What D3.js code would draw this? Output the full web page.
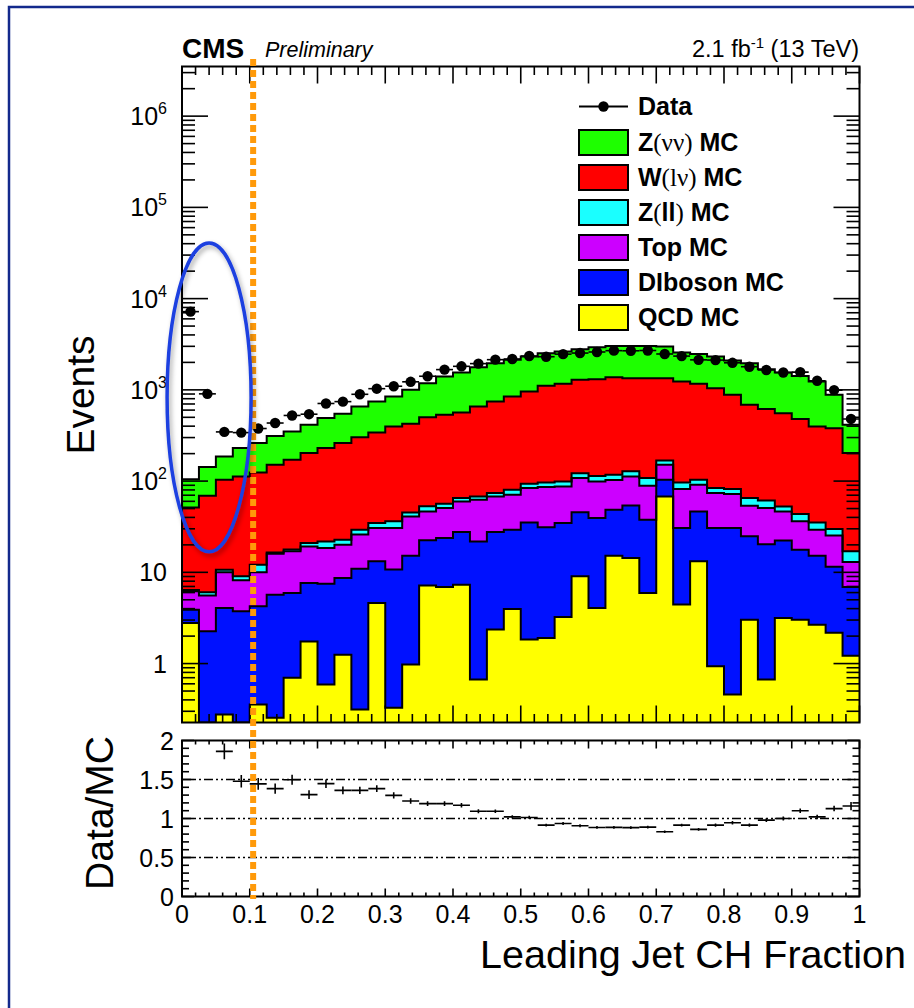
<!DOCTYPE html>
<html>
<head>
<meta charset="utf-8">
<script src="https://cdn.jsdelivr.net/npm/d3@7"></script>
<style>
  html, body { margin: 0; padding: 0; background: #fff; }
  svg { display: block; }
  text { font-family: "Liberation Sans", Arial, Helvetica, sans-serif; fill: #000; }
</style>
</head>
<body>
<svg id="chart" width="914" height="1008"></svg>
<script>
// ---- Binning: 40 bins of the leading-jet charged-hadron fraction, 0..1 ----
const binEdges = d3.range(41).map(i => i / 40);

// ---- Stacked MC components (events per bin) ----
const qcd     = [2.79, 0, 0.277, 0, 0.356, 0.254, 0.697, 1.75, 0.589, 1.25,
                 0.313, 4.62, 0.327, 0.975, 7.15, 6.92, 7.33, 0.668, 2.36, 3.97,
                 1.83, 1.91, 3.24, 9.04, 4.07, 15.2, 14.4, 5.94, 67.9, 4.43,
                 13.2, 0.935, 0.458, 3.03, 0.668, 3.16, 3.03, 2.67, 2.17, 1.22];
const diboson = [1.11, 2.26, 3.79, 3.74, 3.88, 5.44, 5.24, 5.9, 6.93, 7.43,
                 10.6, 8.58, 10.4, 14.2, 15.3, 16.9, 20.4, 21.1, 25.3, 25.3,
                 33.4, 29.2, 31.5, 36.4, 35.3, 33.3, 39.7, 31.8, 35.6, 26.2,
                 33.3, 29.7, 30.1, 21.8, 19.7, 19.2, 14.7, 12.5, 9.33, 5.7];
const top_    = [2.29, 3.3, 5.93, 4.43, 5.76, 10.3, 11.1, 11.6, 11.0, 11.4,
                 15.0, 17.4, 19.9, 25.8, 24.1, 26.9, 32.1, 40.7, 40.2, 41.5,
                 48.7, 55.0, 52.7, 62.6, 59.6, 54.5, 57.9, 51.2, 47.5, 51.2,
                 44.7, 43.4, 41.5, 28.9, 30.3, 24.1, 18.5, 14.1, 13.9, 6.08];
const zll     = [0.21, 0.48, 0.7, 0.87, 2.1, 0.5, 0.7, 1.7, 3.3, 2.7,
                 3.4, 4.1, 5.6, 4.4, 6.3, 5.8, 5.4, 5.4, 6.1, 9.6,
                 9.6, 10.5, 11.6, 14, 15, 14, 16, 19.1, 17, 14.8,
                 12.3, 9.9, 9.7, 11.5, 10.7, 6.3, 7.3, 5.9, 4.5, 4.0];
const wlnu    = [45.1, 63.1, 92.8, 103.4, 112.3, 134.5, 153.3, 182.1, 208.2, 238.2,
                 273.7, 306.3, 359.8, 378.6, 449.2, 476.5, 499.8, 589.1, 671, 764.6,
                 865.5, 1010, 1065, 1166, 1195, 1260, 1215, 1235, 1175, 1136,
                 1060, 959, 800, 620, 554, 503, 434.5, 360.8, 350, 186];
const znunu   = [53.5, 73.4, 82.5, 117.6, 136.6, 162, 179, 211, 260, 285,
                 354, 404, 449, 576, 682, 867, 983, 1117, 1215, 1288,
                 1358, 1416, 1466, 1502, 1628, 1657, 1691, 1691, 1637, 1330,
                 1315, 1274, 1212, 1275, 1071, 992, 945, 837, 502, 211];

// ---- Observed data (events per bin) ----
const dataCounts = [7200, 904, 346, 340, 377, 433, 524, 541, 709, 743,
                    894, 1030, 1096, 1225, 1410, 1667, 1811, 1939, 2142, 2178,
                    2347, 2308, 2462, 2531, 2600, 2690, 2680, 2700, 2473, 2345,
                    2132, 2120, 1979, 1793, 1651, 1548, 1565, 1258, 994, 480];

// ---- Axis tick labels ----
const ratioTickValues = [0, 0.5, 1, 1.5, 2];
const xTickValues = [0, 0.1, 0.2, 0.3, 0.4, 0.5, 0.6, 0.7, 0.8, 0.9, 1];
const logDecades = [0, 1, 2, 3, 4, 5, 6];

// ---- Legend entries, stack order bottom to top ----
const processes = [
  { key: "qcd",     label: [["QCD MC", "b"]],                                         color: "#ffff00", values: qcd },
  { key: "diboson", label: [["DIboson MC", "b"]],                                     color: "#0011ff", values: diboson },
  { key: "top",     label: [["Top MC", "b"]],                                         color: "#cc00ff", values: top_ },
  { key: "zll",     label: [["Z", "b"], ["(", "s"], ["ll", "b"], [")", "s"], [" MC", "b"]], color: "#1affff", values: zll },
  { key: "wlnu",    label: [["W", "b"], ["(lν)", "s"], [" MC", "b"]],                 color: "#ff0000", values: wlnu },
  { key: "znunu",   label: [["Z", "b"], ["(νν)", "s"], [" MC", "b"]],                 color: "#1eff00", values: znunu }
];

// Selection cut on the charged-hadron fraction and the highlighted low-CHF region
const chfCut = 0.105;
const lowChfRegion = { x: [-0.022, 0.102], y: [16.8, 40700] };

// ---- Geometry ----
const svg = d3.select("#chart");
const W = 914, H = 1008;
const plotL = 182, plotR = 859.5;
const mainT = 66.5, mainB = 722.5;
const ratT = 740.5, ratB = 896.5;
const yMin = 0.226, yMax = 3.5e6;

const x = d3.scaleLinear().domain([0, 1]).range([plotL, plotR]);
const y = d3.scaleLog().domain([yMin, yMax]).range([mainB, mainT]).clamp(true);
const yr = d3.scaleLinear().domain([0, 2]).range([ratB, ratT]);
const yv = v => y(Math.max(v, yMin));

svg.append("rect").attr("width", W).attr("height", H).attr("fill", "#fff");

const defs = svg.append("defs");
defs.append("clipPath").attr("id", "clipMain")
  .append("rect").attr("x", plotL).attr("y", mainT).attr("width", plotR - plotL).attr("height", mainB - mainT);
defs.append("clipPath").attr("id", "clipRatio")
  .append("rect").attr("x", plotL).attr("y", ratT).attr("width", plotR - plotL).attr("height", ratB - ratT);
const shadow = defs.append("filter").attr("id", "softShadow")
  .attr("x", "-30%").attr("y", "-10%").attr("width", "160%").attr("height", "120%");
shadow.append("feDropShadow").attr("dx", 2).attr("dy", 3).attr("stdDeviation", 2.5)
  .attr("flood-color", "#000").attr("flood-opacity", 0.35);

// ---- Stack the MC ----
const rows = d3.range(40).map(i => {
  const r = {};
  processes.forEach(p => r[p.key] = p.values[i]);
  return r;
});
const stacked = d3.stack().keys(processes.map(p => p.key))(rows);
const mcTotal = d3.range(40).map(i => d3.sum(processes, p => p.values[i]));

const stepPoints = layer => {
  const pts = [];
  layer.forEach((d, i) => {
    pts.push({ x: binEdges[i], y0: d[0], y1: d[1] });
    pts.push({ x: binEdges[i + 1], y0: d[0], y1: d[1] });
  });
  return pts;
};
const area = d3.area().x(d => x(d.x)).y0(d => yv(d.y0)).y1(d => yv(d.y1));
const topLine = d3.line().x(d => x(d.x)).y(d => yv(d.y1));

const gMain = svg.append("g").attr("clip-path", "url(#clipMain)");
stacked.forEach((layer, k) => {
  gMain.append("path").attr("d", area(stepPoints(layer)))
    .attr("fill", processes[k].color).attr("stroke", "none");
});
stacked.forEach(layer => {
  gMain.append("path").attr("d", topLine(stepPoints(layer)))
    .attr("fill", "none").attr("stroke", "#000").attr("stroke-width", 2);
});

// ---- Data points ----
const binW = 1 / 40;
const gData = gMain.append("g");
dataCounts.forEach((n, i) => {
  const cx = x(binEdges[i] + binW / 2);
  const cy = yv(n);
  const err = Math.sqrt(n);
  gData.append("line").attr("x1", x(binEdges[i])).attr("x2", x(binEdges[i + 1]))
    .attr("y1", cy).attr("y2", cy).attr("stroke", "#000").attr("stroke-width", 1.6);
  gData.append("line").attr("x1", cx).attr("x2", cx)
    .attr("y1", yv(n + err)).attr("y2", yv(Math.max(n - err, yMin)))
    .attr("stroke", "#000").attr("stroke-width", 1.6);
  gData.append("circle").attr("cx", cx).attr("cy", cy).attr("r", 5.2).attr("fill", "#000");
});

// ---- Main frame and ticks ----
const tick = (g, x1, y1, x2, y2, w) =>
  g.append("line").attr("x1", x1).attr("y1", y1).attr("x2", x2).attr("y2", y2)
    .attr("stroke", "#000").attr("stroke-width", w || 1.6);

const gAxes = svg.append("g");
// x ticks, main pad (top and bottom, pointing inward)
d3.range(0, 51).forEach(j => {
  const v = j / 50, px = x(v), major = j % 5 === 0;
  const len = major ? 17 : 8.5;
  tick(gAxes, px, mainB, px, mainB - len);
  tick(gAxes, px, mainT, px, mainT + len);
});
// log y ticks, main pad (left and right)
const yMinor = [];
for (let e = -1; e <= 6; e++) for (let k = 2; k <= 9; k++) {
  const v = k * Math.pow(10, e);
  if (v > yMin && v < yMax) yMinor.push(v);
}
yMinor.forEach(v => { tick(gAxes, plotL, y(v), plotL + 13, y(v)); tick(gAxes, plotR, y(v), plotR - 13, y(v)); });
logDecades.forEach(e => {
  const py = y(Math.pow(10, e));
  tick(gAxes, plotL, py, plotL + 26, py);
  tick(gAxes, plotR, py, plotR - 26, py);
});
gAxes.append("rect").attr("x", plotL).attr("y", mainT).attr("width", plotR - plotL).attr("height", mainB - mainT)
  .attr("fill", "none").attr("stroke", "#000").attr("stroke-width", 2);

// y labels: 1, 10, 10^2 ...
logDecades.forEach(e => {
  const py = y(Math.pow(10, e));
  const t = gAxes.append("text").attr("x", 167).attr("y", py).attr("dy", "0.36em")
    .attr("text-anchor", "end").attr("font-size", 25);
  if (e === 0) t.text("1");
  else if (e === 1) t.text("10");
  else {
    t.append("tspan").text("10");
    t.append("tspan").attr("font-size", 16).attr("dy", -11).text(e);
  }
});

// ---- Ratio pad ----
const gRatio = svg.append("g");
[0.5, 1, 1.5].forEach(v => {
  gRatio.append("line").attr("x1", plotL).attr("x2", plotR - 4).attr("y1", yr(v)).attr("y2", yr(v))
    .attr("stroke", "#000").attr("stroke-width", 1.5).attr("stroke-dasharray", "9,3,2,3,2,3");
});
const gRatioPts = gRatio.append("g").attr("clip-path", "url(#clipRatio)");
dataCounts.forEach((n, i) => {
  const r = n / mcTotal[i];
  if (r > 2) return;
  const e = r / Math.sqrt(n);
  const cx = x(binEdges[i] + binW / 2);
  tick(gRatioPts, x(binEdges[i]), yr(r), x(binEdges[i + 1]), yr(r), 1.6);
  tick(gRatioPts, cx, yr(r - e), cx, yr(r + e), 1.6);
});
d3.range(0, 51).forEach(j => {
  const px = x(j / 50), major = j % 5 === 0;
  const len = major ? 8 : 4;
  tick(gRatio, px, ratB, px, ratB - len);
  tick(gRatio, px, ratT, px, ratT + len);
});
d3.range(0, 21).forEach(j => {
  const py = yr(j / 10), major = j % 5 === 0;
  const len = major ? 12 : 7;
  tick(gRatio, plotL, py, plotL + len, py);
  tick(gRatio, plotR, py, plotR - len, py);
});
gRatio.append("rect").attr("x", plotL).attr("y", ratT).attr("width", plotR - plotL).attr("height", ratB - ratT)
  .attr("fill", "none").attr("stroke", "#000").attr("stroke-width", 2);

ratioTickValues.forEach(v => {
  gRatio.append("text").attr("x", 174).attr("y", yr(v)).attr("dy", "0.36em")
    .attr("text-anchor", "end").attr("font-size", 25).text(String(v));
});
xTickValues.forEach(v => {
  gRatio.append("text").attr("x", x(v)).attr("y", 923)
    .attr("text-anchor", "middle").attr("font-size", 25)
    .text(v === 0 ? "0" : v === 1 ? "1" : v.toFixed(1));
});

// ---- Axis titles ----
svg.append("text").attr("x", 906).attr("y", 968).attr("text-anchor", "end")
  .attr("font-size", 39.5).text("Leading Jet CH Fraction");
svg.append("text").attr("transform", "translate(94,395) rotate(-90)").attr("text-anchor", "middle")
  .attr("font-size", 39).text("Events");
svg.append("text").attr("transform", "translate(113,813) rotate(-90)").attr("text-anchor", "middle")
  .attr("font-size", 39).text("Data/MC");

// ---- Header ----
svg.append("text").attr("x", 182).attr("y", 58).attr("font-size", 28).attr("font-weight", "bold").text("CMS");
svg.append("text").attr("x", 265).attr("y", 57).attr("font-size", 21.5).attr("font-style", "italic").text("Preliminary");
const lumi = svg.append("text").attr("x", 859).attr("y", 57).attr("text-anchor", "end").attr("font-size", 23.5);
lumi.append("tspan").text("2.1 fb");
lumi.append("tspan").attr("font-size", 15).attr("dy", -9).text("-1");
lumi.append("tspan").attr("dy", 9).text(" (13 TeV)");

// ---- Legend ----
const gLeg = svg.append("g");
const legX = 579, legBoxW = 49, legBoxH = 25, legTextX = 638, legFont = 25;
gLeg.append("line").attr("x1", legX).attr("x2", legX + legBoxW).attr("y1", 106.5).attr("y2", 106.5)
  .attr("stroke", "#000").attr("stroke-width", 2);
gLeg.append("circle").attr("cx", legX + legBoxW / 2).attr("cy", 106.5).attr("r", 5.2).attr("fill", "#000");
gLeg.append("text").attr("x", legTextX).attr("y", 115).attr("font-size", legFont).attr("font-weight", "bold").text("Data");
processes.slice().reverse().forEach((p, k) => {
  const by = 130 + k * 35;
  gLeg.append("rect").attr("x", legX).attr("y", by).attr("width", legBoxW).attr("height", legBoxH)
    .attr("fill", p.color).attr("stroke", "#000").attr("stroke-width", 2);
  const t = gLeg.append("text").attr("x", legTextX).attr("y", by + 21).attr("font-size", legFont);
  p.label.forEach(([s, style]) => {
    const ts = t.append("tspan").text(s);
    if (style === "b") ts.attr("font-weight", "bold");
    else ts.attr("font-family", "'Liberation Serif', 'DejaVu Serif', serif").attr("font-weight", "normal");
  });
});

// ---- Annotations: CHF cut line and highlighted region ----
svg.append("line").attr("x1", x(chfCut)).attr("x2", x(chfCut)).attr("y1", 59).attr("y2", 899)
  .attr("stroke", "#ff9a0a").attr("stroke-width", 6).attr("stroke-dasharray", "7,4");
const ex0 = x(lowChfRegion.x[0]), ex1 = x(lowChfRegion.x[1]);
const ey0 = y(lowChfRegion.y[1]), ey1 = y(lowChfRegion.y[0]);
svg.append("ellipse").attr("cx", (ex0 + ex1) / 2).attr("cy", (ey0 + ey1) / 2)
  .attr("rx", (ex1 - ex0) / 2).attr("ry", (ey1 - ey0) / 2)
  .attr("fill", "none").attr("stroke", "#1d3fe0").attr("stroke-width", 3.5)
  .attr("filter", "url(#softShadow)");

// ---- Slide frame ----
svg.append("path").attr("d", `M9,${H} V7 H${W}`).attr("fill", "none")
  .attr("stroke", "#13298c").attr("stroke-width", 2.5);
</script>
</body>
</html>
